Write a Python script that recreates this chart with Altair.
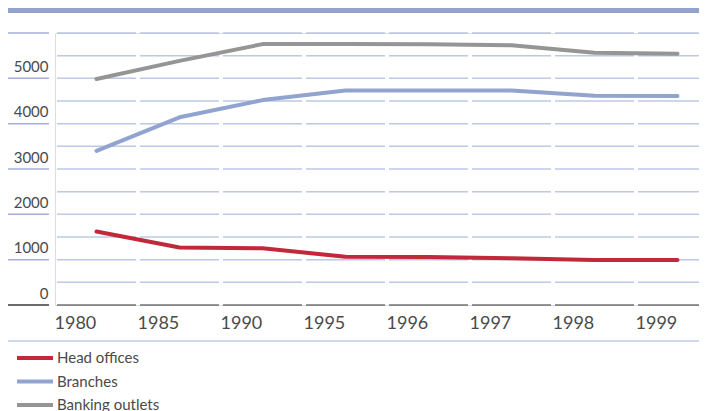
import altair as alt
import pandas as pd

years = ["1980", "1985", "1990", "1995", "1996", "1997", "1998", "1999"]
series = ["Head offices", "Branches", "Banking outlets"]
head_offices = [1620, 1270, 1250, 1065, 1060, 1030, 995, 995]
branches = [3400, 4140, 4520, 4730, 4730, 4730, 4615, 4610]
banking_outlets = [4985, 5385, 5755, 5755, 5750, 5730, 5565, 5545]
y_labels = [0, 1000, 2000, 3000, 4000, 5000]
grid_values = list(range(0, 6001, 500))
label_column_values = list(range(0, 6001, 1000))
colors = ["#C1283A", "#91A3CF", "#959595"]

rows = []
for name, vals in zip(series, [head_offices, branches, banking_outlets]):
    for yr, v in zip(years, vals):
        rows.append({"year": yr, "series": name, "value": v})
df = pd.DataFrame(rows)
grid_df = pd.DataFrame([{"year": yr, "v": g} for yr in years for g in grid_values])
left_df = pd.DataFrame({"v": label_column_values})
one = pd.DataFrame({"a": [0]})

light = "#A3B1D8"
dark = "#3a3a3a"
text_color = "#4a4a4a"

x_scale = alt.Scale(type="band", domain=years, range=[0, 664],
                    paddingInner=0.05, paddingOuter=0.025)
y_scale = alt.Scale(domain=[0, 6000], nice=False, zero=True)

x_axis = alt.Axis(domain=False, ticks=False, tickSize=0, grid=False,
                  labelAlign="left", labelAngle=0,
                  labelBaseline="alphabetic", labelPadding=23,
                  labelFontSize=18, labelColor=text_color,
                  labelOffset=-42, labelOverlap=False, labelFont="Lato")
y_axis = alt.Axis(values=y_labels, format="d", domain=False, ticks=False, tickSize=0,
                  grid=False, labelAlign="right", labelBaseline="alphabetic",
                  labelOffset=-7, labelPadding=7, labelFontSize=15,
                  labelColor=text_color, labelFlush=False, labelFont="Lato")

banner = alt.Chart(one).mark_rect(color="#93A3CB").encode(
    x=alt.value(-47), x2=alt.value(644), y=alt.value(-25), y2=alt.value(-20)
)

grid = alt.Chart(grid_df).mark_tick(size=79, thickness=1.5).encode(
    x=alt.X("year:O", scale=x_scale, title=None, axis=x_axis),
    y=alt.Y("v:Q", scale=y_scale, title=None, axis=y_axis),
    color=alt.condition(alt.datum.v == 0, alt.value(dark), alt.value(light)),
)

left = alt.Chart(left_df).mark_rule(strokeWidth=1.5).encode(
    x=alt.value(-48), x2=alt.value(-6),
    y=alt.Y("v:Q", scale=y_scale, title=None, axis=y_axis),
    color=alt.condition(alt.datum.v == 0, alt.value(dark), alt.value(light)),
)

sep = alt.Chart(one).mark_rule(color=light, strokeWidth=1.2).encode(
    x=alt.value(-48), x2=alt.value(644), y=alt.value(308)
)

lines = alt.Chart(df).mark_line(strokeWidth=4, strokeCap="round", strokeJoin="round").encode(
    x=alt.X("year:O", scale=x_scale, title=None, axis=x_axis, bandPosition=0.5),
    y=alt.Y("value:Q", scale=y_scale, title=None, axis=y_axis),
    color=alt.Color("series:N", scale=alt.Scale(domain=series, range=colors),
                    legend=alt.Legend(orient="none", legendX=-28, legendY=317,
                                      title=None, symbolType="M-3,0H3",
                                      symbolSize=144, symbolStrokeWidth=4,
                                      labelFontSize=15, labelFont="Lato",
                                      labelColor=text_color, rowPadding=7.5,
                                      labelOffset=14, symbolOffset=0,
                                      direction="vertical")),
    detail="series:N",
)

chart = alt.layer(banner, grid, left, sep, lines).properties(
    width=644, height=272,
    padding={"left": 47, "top": 25, "right": 0, "bottom": 110},
    autosize=alt.AutoSizeParams(type="none"),
).configure_view(strokeWidth=0).configure(font="Lato")

chart.save("out.html", embed_options={"renderer": "svg", "actions": False})
